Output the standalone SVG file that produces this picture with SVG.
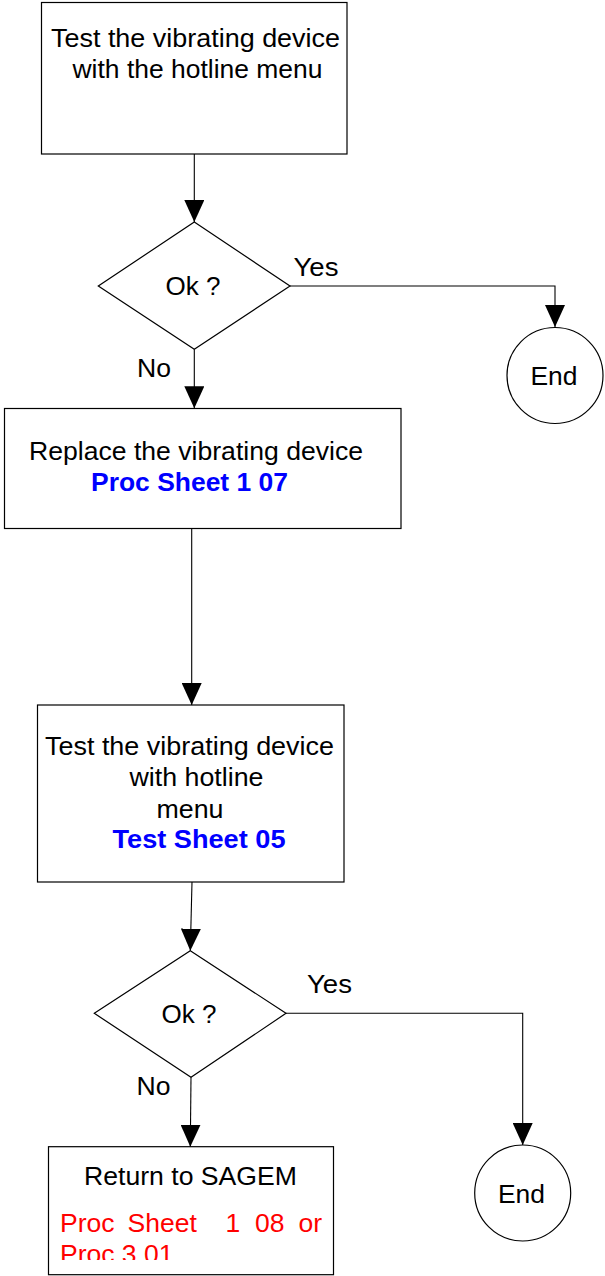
<svg xmlns="http://www.w3.org/2000/svg" width="605" height="1276" viewBox="0 0 605 1276">
<style>
.shape{fill:#fff;stroke:#000;stroke-width:1.2}
.conn{fill:none;stroke:#000;stroke-width:1.1}
text{font-family:"Liberation Sans",Arial,sans-serif;font-size:26.5px;fill:#000}
.blue{fill:#0000ff;font-weight:bold}
.red{fill:#ff0000}
</style>
<defs>
<marker id="arr" markerUnits="userSpaceOnUse" markerWidth="22" markerHeight="20" viewBox="0 0 22 20" refX="22" refY="10" orient="auto">
<path d="M0,0 L22,10 L0,20 z" fill="#000"/>
</marker>
<clipPath id="clip4"><rect x="48" y="1146" width="286" height="114"/></clipPath>
</defs>
<rect width="605" height="1276" fill="#fff"/>
<g id="connectors">
<path class="conn" d="M194.3,154 L194.3,222" marker-end="url(#arr)"/>
<path class="conn" d="M290,286 L555,286 L555,327" marker-end="url(#arr)"/>
<path class="conn" d="M194.3,349.3 L194.3,408.3" marker-end="url(#arr)"/>
<path class="conn" d="M191.7,528.3 L191.7,705" marker-end="url(#arr)"/>
<path class="conn" d="M192,882 L190.3,950.7" marker-end="url(#arr)"/>
<path class="conn" d="M286,1013.3 L522.7,1013.3 L522.7,1145" marker-end="url(#arr)"/>
<path class="conn" d="M191,1077.3 L190.3,1146.7" marker-end="url(#arr)"/>
</g>
<g id="box1">
<rect class="shape" x="41.5" y="2.5" width="305.5" height="151.5"/>
<text x="51" y="47" textLength="289" lengthAdjust="spacingAndGlyphs">Test the vibrating device</text>
<text x="72.5" y="78" textLength="250" lengthAdjust="spacingAndGlyphs">with the hotline menu</text>
</g>
<g id="decision1">
<polygon class="shape" points="194.3,222 290,286 194.3,349.3 98.3,286"/>
<text x="165.5" y="295" textLength="55" lengthAdjust="spacingAndGlyphs">Ok ?</text>
<text x="293.5" y="276" textLength="45" lengthAdjust="spacingAndGlyphs">Yes</text>
<text x="137" y="377" textLength="34" lengthAdjust="spacingAndGlyphs">No</text>
</g>
<g id="end1">
<circle class="shape" cx="555" cy="375.5" r="48"/>
<text x="530.5" y="385" textLength="47" lengthAdjust="spacingAndGlyphs">End</text>
</g>
<g id="box2">
<rect class="shape" x="4.5" y="408.5" width="396.5" height="120"/>
<text x="29" y="460" textLength="334" lengthAdjust="spacingAndGlyphs">Replace the vibrating device</text>
<text class="blue" x="91" y="491" textLength="197" lengthAdjust="spacingAndGlyphs">Proc Sheet 1 07</text>
</g>
<g id="box3">
<rect class="shape" x="37.5" y="705" width="306.5" height="177"/>
<text x="45" y="755" textLength="289" lengthAdjust="spacingAndGlyphs">Test the vibrating device</text>
<text x="129.5" y="786" textLength="134" lengthAdjust="spacingAndGlyphs">with hotline</text>
<text x="156.5" y="818" textLength="67" lengthAdjust="spacingAndGlyphs">menu</text>
<text class="blue" x="112.5" y="848" textLength="173" lengthAdjust="spacingAndGlyphs">Test Sheet 05</text>
</g>
<g id="decision2">
<polygon class="shape" points="190.3,950.7 286,1013.3 191,1077.3 94.3,1013.3"/>
<text x="161.5" y="1023" textLength="55" lengthAdjust="spacingAndGlyphs">Ok ?</text>
<text x="307" y="993" textLength="45" lengthAdjust="spacingAndGlyphs">Yes</text>
<text x="136.5" y="1095" textLength="34" lengthAdjust="spacingAndGlyphs">No</text>
</g>
<g id="end2">
<circle class="shape" cx="522.7" cy="1193" r="48"/>
<text x="498" y="1203" textLength="47" lengthAdjust="spacingAndGlyphs">End</text>
</g>
<g id="box4">
<rect class="shape" x="48.5" y="1146.7" width="285" height="128"/>
<text x="84" y="1185" textLength="213" lengthAdjust="spacingAndGlyphs">Return to SAGEM</text>
<g clip-path="url(#clip4)">
<text class="red" y="1232"><tspan x="60">Proc</tspan><tspan x="127.5">Sheet</tspan><tspan x="225.5">1</tspan><tspan x="255">08</tspan><tspan x="298.5">or</tspan></text>
<text class="red" x="60" y="1263">Proc 3.01</text>
</g>
</g>
</svg>
